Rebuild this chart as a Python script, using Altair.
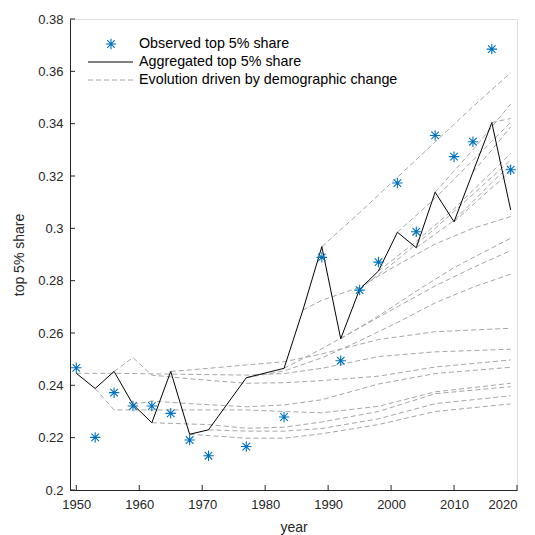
import altair as alt
import pandas as pd

# ---- data ----
years = [1950, 1953, 1956, 1959, 1962, 1965, 1968, 1971, 1977, 1983, 1986, 1989,
         1992, 1995, 1998, 2001, 2004, 2007, 2010, 2013, 2016, 2019]
aggregated = [0.2446, 0.2388, 0.2453, 0.2327, 0.2257, 0.2453, 0.2213, 0.2230, 0.2429,
              0.2465, 0.2688, 0.2930, 0.2578, 0.2767, 0.2837, 0.2985, 0.2926, 0.3138,
              0.3025, 0.3215, 0.3404, 0.3070]

obs_years = [1950, 1953, 1956, 1959, 1962, 1965, 1968, 1971, 1977, 1983, 1989,
             1992, 1995, 1998, 2001, 2004, 2007, 2010, 2013, 2016, 2019]
observed = [0.2467, 0.2201, 0.2372, 0.2321, 0.2321, 0.2293, 0.2191, 0.2131, 0.2166,
            0.2279, 0.2889, 0.2494, 0.2764, 0.2871, 0.3173, 0.2987, 0.3355, 0.3274,
            0.3331, 0.3685, 0.3224]

# evolutions driven by demographic change, one per starting survey
d1950 = [(1950, .2446), (1956, .2446), (1965, .2443), (1977, .2439), (1983, .2445), (1989, .2465), (1998, .2510), (2007, .2528), (2019, .2538)]
d1953 = [(1953, .2388), (1956, .2306), (1965, .2306), (1977, .2306), (1983, .2300), (1989, .2295), (1998, .2320), (2007, .2375), (2019, .2408)]
d1956 = [(1956, .2453), (1959, .2506), (1962, .2439), (1968, .2425), (1977, .2408), (1983, .2410), (1989, .2418), (1998, .2435), (2007, .2470), (2019, .2497)]
d1959 = [(1959, .2327), (1962, .2340), (1968, .2330), (1977, .2318), (1983, .2325), (1989, .2345), (1998, .2405), (2007, .2445), (2019, .2469)]
d1962 = [(1962, .2257), (1971, .2250), (1977, .2236), (1983, .2240), (1989, .2260), (1998, .2300), (2007, .2368), (2019, .2395)]
d1965 = [(1965, .2453), (1971, .2465), (1977, .2478), (1983, .2490), (1989, .2520), (1998, .2575), (2007, .2605), (2019, .2618)]
d1968 = [(1968, .2213), (1977, .2198), (1983, .2198), (1989, .2215), (1998, .2250), (2007, .2300), (2019, .2329)]
d1971 = [(1971, .2230), (1977, .2225), (1983, .2225), (1989, .2235), (1998, .2272), (2007, .2330), (2019, .2360)]
d1977 = [(1977, .2429), (1983, .2455), (1989, .2505), (1995, .2570), (2001, .2640), (2007, .2715), (2013, .2775), (2019, .2825)]
d1983 = [(1983, .2465), (1989, .2540), (1995, .2620), (2001, .2700), (2007, .2780), (2013, .2850), (2019, .2915)]
d1986 = [(1986, .2688), (1989, .2725), (1995, .2775), (2001, .2860), (2007, .2940), (2013, .3000), (2019, .3045)]
d1989 = [(1989, .2930), (1995, .3060), (2001, .3195), (2007, .3330), (2013, .3465), (2019, .3595)]
d1992 = [(1992, .2578), (1998, .2665), (2004, .2760), (2010, .2850), (2016, .2925), (2019, .2962)]
d1995 = [(1995, .2767), (2001, .2880), (2007, .3000), (2013, .3130), (2019, .3261)]
d1998 = [(1998, .2837), (2004, .2950), (2010, .3075), (2016, .3215), (2019, .3287)]
d2001 = [(2001, .2985), (2007, .3115), (2013, .3260), (2019, .3405)]
d2004 = [(2004, .2926), (2010, .3030), (2016, .3175), (2019, .3242)]
d2007 = [(2007, .3138), (2013, .3300), (2019, .3475)]
d2010 = [(2010, .3025), (2016, .3155), (2019, .3216)]
d2013 = [(2013, .3215), (2016, .3300), (2019, .3388)]
d2016 = [(2016, .3404), (2019, .3420)]

x_ticks = [1950, 1960, 1970, 1980, 1990, 2000, 2010, 2020]
y_ticks = [0.2, 0.22, 0.24, 0.26, 0.28, 0.3, 0.32, 0.34, 0.36, 0.38]

legend_labels = ["Observed top 5% share", "Aggregated top 5% share",
                 "Evolution driven by demographic change"]

# ---- tables ----
proj = {1950: d1950, 1953: d1953, 1956: d1956, 1959: d1959, 1962: d1962, 1965: d1965,
        1968: d1968, 1971: d1971, 1977: d1977, 1983: d1983, 1986: d1986, 1989: d1989,
        1992: d1992, 1995: d1995, 1998: d1998, 2001: d2001, 2004: d2004, 2007: d2007,
        2010: d2010, 2013: d2013, 2016: d2016}
rows = []
for start, pts in proj.items():
    for i, (yr, v) in enumerate(pts):
        rows.append({"start": start, "year": yr, "value": v, "order": i})
proj_df = pd.DataFrame(rows)
agg_df = pd.DataFrame({"year": years, "value": aggregated})
obs_df = pd.DataFrame({"year": obs_years, "value": observed})
xt_df = pd.DataFrame({"year": x_ticks})
yt_df = pd.DataFrame({"value": y_ticks})

W, H = 447, 471
AX = "#262626"
BLUE = "#0072BD"
GREY = "#a6a6a6"
FONT = "Liberation Sans"
STAR = "M-1,0L1,0M0,-1L0,1M-0.72,-0.72L0.72,0.72M-0.72,0.72L0.72,-0.72"

xs = alt.Scale(domain=[1949, 2020], nice=False, zero=False)
ys = alt.Scale(domain=[0.2, 0.38], nice=False, zero=False)

x_axis = alt.Axis(values=x_ticks, format="d", title="year", ticks=False, grid=False,
                  labelPadding=8, titlePadding=9, domainColor=AX, labelColor=AX,
                  titleColor=AX, labelFontSize=13, titleFontSize=14,
                  titleFontWeight="normal", labelFont=FONT, titleFont=FONT)
y_axis = alt.Axis(values=y_ticks, format=".2~f", title="top 5% share", ticks=False,
                  grid=False, labelPadding=7, titlePadding=11, domainColor=AX,
                  labelColor=AX, titleColor=AX, labelFontSize=13, titleFontSize=14,
                  titleFontWeight="normal", labelFont=FONT, titleFont=FONT)

dashed = alt.Chart(proj_df).mark_line(color=GREY, strokeWidth=1, strokeDash=[5, 3]).encode(
    x=alt.X("year:Q", scale=xs, axis=x_axis),
    y=alt.Y("value:Q", scale=ys, axis=y_axis),
    detail="start:N",
    order="order:Q",
)
black = alt.Chart(agg_df).mark_line(color="black", strokeWidth=1).encode(
    x=alt.X("year:Q", scale=xs), y=alt.Y("value:Q", scale=ys))
stars = alt.Chart(obs_df).mark_point(shape=STAR, size=110, filled=False, color=BLUE,
                                     strokeWidth=1.1, opacity=1).encode(
    x=alt.X("year:Q", scale=xs), y=alt.Y("value:Q", scale=ys))

xtick = alt.Chart(xt_df).mark_rule(color=AX, strokeWidth=1).encode(
    x=alt.X("year:Q", scale=xs), y=alt.value(H), y2=alt.value(H - 5))
ytick = alt.Chart(yt_df).mark_rule(color=AX, strokeWidth=1).encode(
    y=alt.Y("value:Q", scale=ys), x=alt.value(0), x2=alt.value(5))

# legend (drawn by hand, top-left)
leg_star = alt.Chart(pd.DataFrame({"k": [0]})).mark_point(
    shape=STAR, size=110, filled=False, color=BLUE, strokeWidth=1.1, opacity=1).encode(
    x=alt.value(41), y=alt.value(25))
leg_line = alt.Chart(pd.DataFrame({"k": [0]})).mark_rule(color="black", strokeWidth=1).encode(
    x=alt.value(18), x2=alt.value(63), y=alt.value(43))
leg_dash = alt.Chart(pd.DataFrame({"k": [0]})).mark_rule(
    color=GREY, strokeWidth=1, strokeDash=[5, 3]).encode(
    x=alt.value(18), x2=alt.value(63), y=alt.value(61))
leg_text = alt.Chart(pd.DataFrame({"label": legend_labels, "ypos": [25, 43, 61]})).mark_text(
    align="left", baseline="middle", font=FONT, fontSize=14.3, color="black").encode(
    x=alt.value(69), y=alt.Y("ypos:Q", scale=None), text="label:N")

chart = alt.layer(dashed, black, stars, xtick, ytick, leg_star, leg_line, leg_dash, leg_text).properties(
    width=W, height=H,
    autosize=alt.AutoSizeParams(type="none"),
    padding={"left": 62, "top": 11, "right": 10, "bottom": 45},
).configure_view(stroke=None).configure(background="white")

chart.save("out.html", embed_options={"renderer": "svg", "actions": False})
